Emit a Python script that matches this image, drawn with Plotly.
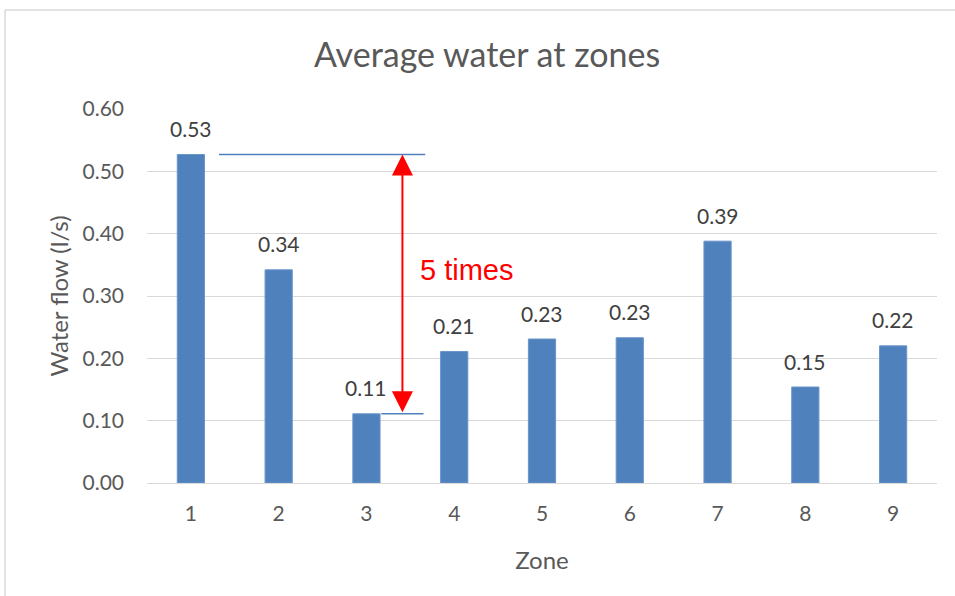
import plotly.graph_objects as go

# Average water flow per zone (l/s)
zones = [1, 2, 3, 4, 5, 6, 7, 8, 9]
flow = [0.527, 0.342, 0.111, 0.211, 0.231, 0.233, 0.388, 0.154, 0.220]
y_ticks = [0.0, 0.1, 0.2, 0.3, 0.4, 0.5, 0.6]

title_text = "Average water at zones"
x_title = "Zone"
y_title = "Water flow (l/s)"
ratio_text = "5 times"

bar_color = "#4f81bd"
grid_color = "#d9d9d9"
text_color = "#595959"
label_color = "#404040"
font_family = "Lato, 'Open Sans', sans-serif"

hi = flow[0]   # zone 1 level
lo = flow[2]   # zone 3 level

fig = go.Figure()
fig.add_trace(go.Bar(
    x=zones,
    y=flow,
    marker=dict(color=bar_color, line=dict(color="#6a95c9", width=1)),
    width=0.31,
    cliponaxis=False,
))

shapes = [
    # reference lines for the highest and lowest zone
    dict(type="line", xref="x", yref="y", x0=1.32, x1=3.67, y0=hi, y1=hi,
         line=dict(color="#4f81bd", width=1.5)),
    dict(type="line", xref="x", yref="y", x0=3.17, x1=3.65, y0=lo, y1=lo,
         line=dict(color="#4f81bd", width=1.5)),
    # outer chart frame
    dict(type="line", xref="paper", yref="paper", x0=-0.1797, x1=1.1, y0=1.2647, y1=1.2647,
         line=dict(color=grid_color, width=1.5)),
    dict(type="line", xref="paper", yref="paper", x0=-0.1797, x1=-0.1797, y0=1.2647, y1=-0.35,
         line=dict(color=grid_color, width=1.5)),
]

# value labels above each bar
annotations = [
    dict(x=z, y=v, xref="x", yref="y", text=f"{v:.2f}", showarrow=False,
         xanchor="center", yanchor="middle", yshift=26,
         font=dict(size=21, color=label_color, family=font_family))
    for z, v in zip(zones, flow)
]

annotations += [
    # double-headed arrow between the two levels
    dict(x=3.41, y=hi, ax=3.41, ay=lo, xref="x", yref="y", axref="x", ayref="y",
         showarrow=True, arrowhead=2, startarrowhead=2, arrowside="end+start",
         arrowsize=2.1, startarrowsize=2.1, arrowwidth=2, arrowcolor="#ff0000",
         standoff=0, startstandoff=0, text=""),
    dict(x=3.59, y=0.342, xref="x", yref="y", text=ratio_text, showarrow=False,
         xanchor="left", yanchor="middle",
         font=dict(size=29, color="#ff0000", family="Liberation Sans, Arial, sans-serif")),
]

fig.update_layout(
    width=955,
    height=596,
    margin=dict(l=147, r=18, t=109, b=113),
    paper_bgcolor="white",
    plot_bgcolor="white",
    showlegend=False,
    title=dict(text=title_text, x=0.51, xanchor="center", y=0.907, yanchor="middle",
               font=dict(size=34, color=text_color, family=font_family)),
    xaxis=dict(
        range=[0.5, 9.5],
        tickmode="array",
        tickvals=zones,
        ticktext=[str(z) for z in zones],
        showgrid=False,
        zeroline=False,
        showline=True,
        linecolor=grid_color,
        linewidth=1,
        ticks="",
        ticklabelstandoff=12,
        tickfont=dict(size=21, color=text_color, family=font_family),
        title=dict(text=x_title, font=dict(size=24, color=text_color, family=font_family),
                   standoff=27),
    ),
    yaxis=dict(
        range=[0, 0.6],
        tickmode="array",
        tickvals=y_ticks,
        ticktext=[f"{t:.2f}" for t in y_ticks],
        showgrid=True,
        gridcolor=grid_color,
        gridwidth=1,
        zeroline=False,
        showline=False,
        ticks="",
        ticklabelstandoff=22,
        tickfont=dict(size=21, color=text_color, family=font_family),
        title=dict(text=y_title, font=dict(size=24, color=text_color, family=font_family),
                   standoff=7),
    ),
    shapes=shapes,
    annotations=annotations,
    bargap=0.69,
)

fig.write_html("out.html")
